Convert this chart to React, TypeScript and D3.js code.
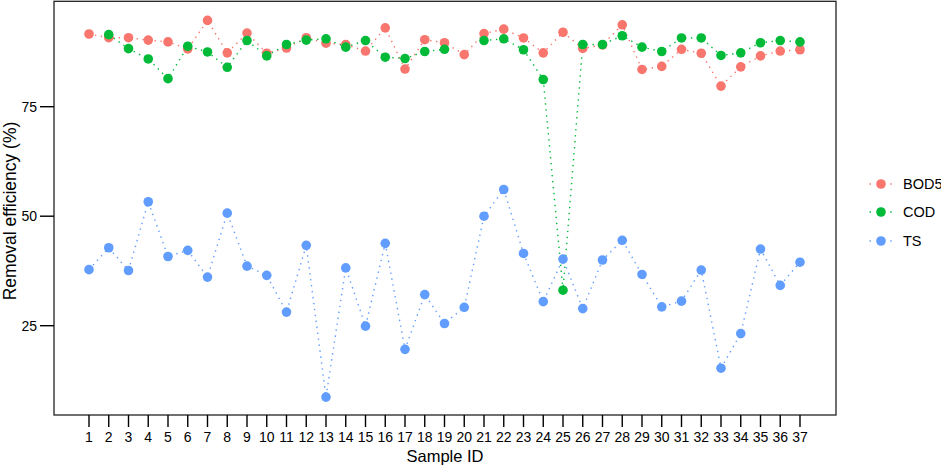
import React from "react";
import * as d3 from "d3";

const sampleIds: number[] = d3.range(1, 38);
const bod5: (number | null)[] = [
  91.6, 90.75, 90.75, 90.2, 89.8, 88.2, 94.7, 87.3, 91.8, 87.2, 88.4, 90.75,
  89.5, 89.2, 87.7, 93.0, 83.6, 90.3, 89.6, 86.9, 91.7, 92.7, 90.7, 87.3, 92.0,
  88.3, 89.1, 93.7, 83.5, 84.2, 88.1, 87.2, 79.7, 84.1, 86.6, 87.7, 88.0,
];
const cod: (number | null)[] = [
  null, 91.45, 88.25, 85.9, 81.4, 88.8, 87.5, 84.0, 90.1, 86.6, 89.2, 90.2,
  90.5, 88.6, 90.1, 86.3, 86.0, 87.6, 88.1, null, 90.1, 90.5, 88.0, 81.2, 33.1,
  89.2, 89.2, 91.2, 88.6, 87.6, 90.7, 90.7, 86.7, 87.3, 89.6, 90.1, 89.8,
];
const ts: (number | null)[] = [
  37.8, 42.8, 37.6, 53.3, 40.8, 42.2, 36.1, 50.7, 38.6, 36.5, 28.1, 43.35,
  8.7, 38.2, 24.9, 43.8, 19.6, 32.1, 25.5, 29.2, 50.0, 56.1, 41.5, 30.5, 40.2,
  28.9, 40.0, 44.5, 36.7, 29.3, 30.6, 37.7, 15.3, 23.2, 42.5, 34.2, 39.5,
];
const yTicks: number[] = [25, 50, 75];
const seriesNames: string[] = ["BOD5", "COD", "TS"];
const seriesColors: string[] = ["#F8766D", "#00BA38", "#619CFF"];

const W = 941;
const H = 467;
const panel = { left: 54, right: 836, top: 1.3, bottom: 415 };
const font = "'Liberation Sans', Arial, Helvetica, sans-serif";
const dash = "1.4 4.6";

export default function App() {
  const x = d3.scaleLinear().domain([1, 37]).range([89, 800]);
  const y = d3.scaleLinear().domain([25, 75]).range([325.7, 106.7]);
  const allSeries = [bod5, cod, ts];
  const line = d3
    .line<number | null>()
    .defined((d) => d !== null)
    .x((_, i) => x(sampleIds[i]))
    .y((d) => y(d as number));

  const legendY = [184, 212, 241];

  return (
    <div style={{ position: "absolute", left: 0, top: 0 }}>
      <svg width={W} height={H} style={{ display: "block", background: "#fff" }}>
        <rect x={0} y={0} width={W} height={H} fill="#fff" />
        {allSeries.map((s, k) => (
          <path
            key={"l" + k}
            d={line(s) || ""}
            fill="none"
            stroke={seriesColors[k]}
            strokeWidth={1.4}
            strokeDasharray={dash}
          />
        ))}
        {allSeries.map((s, k) =>
          s.map((v, i) =>
            v === null ? null : (
              <circle
                key={"p" + k + "-" + i}
                cx={x(sampleIds[i])}
                cy={y(v)}
                r={4.8}
                fill={seriesColors[k]}
              />
            )
          )
        )}
        <rect
          x={panel.left}
          y={panel.top}
          width={panel.right - panel.left}
          height={panel.bottom - panel.top}
          fill="none"
          stroke="#222"
          strokeWidth={1.3}
        />
        {yTicks.map((t) => (
          <g key={"yt" + t}>
            <line x1={40} x2={panel.left} y1={y(t)} y2={y(t)} stroke="#000" strokeWidth={1.4} />
            <text
              x={37}
              y={y(t)}
              dy="0.35em"
              textAnchor="end"
              fontFamily={font}
              fontSize={14}
              fill="#000"
            >
              {t}
            </text>
          </g>
        ))}
        {sampleIds.map((t) => (
          <g key={"xt" + t}>
            <line x1={x(t)} x2={x(t)} y1={panel.bottom} y2={427} stroke="#000" strokeWidth={1.4} />
            <text
              x={x(t)}
              y={437}
              dy="0.35em"
              textAnchor="middle"
              fontFamily={font}
              fontSize={14}
              fill="#000"
            >
              {t}
            </text>
          </g>
        ))}
        <text
          x={(panel.left + panel.right) / 2}
          y={456}
          dy="0.35em"
          textAnchor="middle"
          fontFamily={font}
          fontSize={16.5}
          fill="#000"
        >
          Sample ID
        </text>
        <text
          transform={`translate(10,211) rotate(-90)`}
          dy="0.35em"
          textAnchor="middle"
          fontFamily={font}
          fontSize={17.5}
          fill="#000"
        >
          Removal efficiency (%)
        </text>
        {seriesNames.map((n, k) => (
          <g key={"lg" + n}>
            <line
              x1={869}
              x2={894}
              y1={legendY[k]}
              y2={legendY[k]}
              stroke={seriesColors[k]}
              strokeWidth={1.4}
              strokeDasharray="1.4 9"
              strokeDashoffset={-0.5}
            />
            <circle cx={881} cy={legendY[k]} r={4.8} fill={seriesColors[k]} />
            <text
              x={903}
              y={legendY[k]}
              dy="0.35em"
              fontFamily={font}
              fontSize={14.5}
              fill="#000"
            >
              {n}
            </text>
          </g>
        ))}
      </svg>
    </div>
  );
}
